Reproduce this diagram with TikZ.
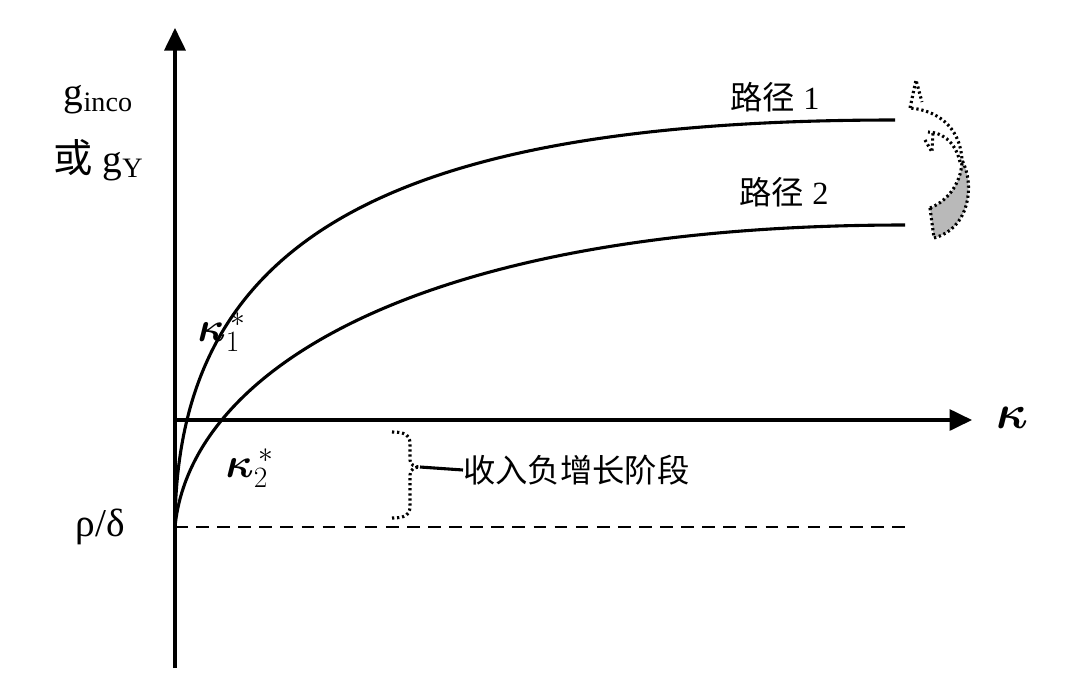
\documentclass[tikz,border=0pt]{standalone}
\usepackage{fix-cm}
\usepackage{fontspec}
\usepackage{amsmath,bm}
\setmainfont{Liberation Serif}
\newfontfamily\cjk{Noto Sans CJK SC}
\usetikzlibrary{positioning, calc, arrows.meta}

\begin{document}
\begin{tikzpicture}[
    x=0.025cm, y=-0.025cm,
    axis/.style={line width=2.2pt, -{Triangle[length=16pt, width=15pt]}},
    curve/.style={line width=2.2pt},
    lbl/.style={font=\fontsize{23}{27}\selectfont, inner sep=0pt},
    ylbl/.style={font=\fontsize{28}{32}\selectfont, inner sep=0pt},
    klbl/.style={inner sep=0pt},
    dots/.style={line width=2.2pt, dash pattern=on 1.6pt off 2pt}
]
    \useasboundingbox (0,0) rectangle (1080,679);

    % Axes
    \coordinate (o) at (175,527);
    \coordinate (ybot) at (175,668);
    \coordinate (ytop) at (175,28);
    \coordinate (xl) at (175,420);
    \coordinate (xr) at (972,420);
    \coordinate (dend) at (905,527);
    \draw[axis] (ybot) -- (ytop);
    \draw[axis] (xl) -- (xr);
    \draw[line width=1.8pt, dash pattern=on 9pt off 6pt] (o) -- (dend);

    % Paths
    \coordinate (p1) at (895,120);
    \coordinate (p2) at (905,225);
    \draw[curve] (o) .. controls (176,250) and (370,120) .. (p1);
    \draw[curve] (o) .. controls (190,370) and (420,225) .. (p2);

    % Labels
    \node[ylbl] (gi) at (98,100) {g\raisebox{-4pt}{\fontsize{20}{22}\selectfont inco}};
    \node[ylbl] (gy) at (98,160) {{\cjk 或} g\raisebox{-4pt}{\fontsize{20}{22}\selectfont Y}};
    \node[ylbl] (rd) at (100,527) {ρ/δ};
    \node[klbl] (kx) at (1012,418) {\fontsize{34}{38}\selectfont$\bm{\kappa}$};
    \node[klbl] (k1) at (222,332) {\fontsize{30}{34}\selectfont$\bm{\kappa}_1^{\,*}$};
    \node[klbl] (k2) at (250,468) {\fontsize{30}{34}\selectfont$\bm{\kappa}_2^{\,*}$};
    \node[lbl] (r1) at (775,97) {{\cjk 路径} 1};
    \node[lbl] (r2) at (784,192) {{\cjk 路径} 2};
    \node[lbl, anchor=west] (st) at (463,470) {\cjk 收入负增长阶段};

    % Brace
    \coordinate (b1) at (392,432);
    \coordinate (b2) at (392,518);
    \coordinate (bt) at (420,467);
    \draw[dots] (b1) .. controls (412,432) and (410,440) .. (410,450)
        -- (410,460) .. controls (410,465) and (415,467) .. (bt);
    \draw[dots] (b2) .. controls (412,518) and (410,510) .. (410,500)
        -- (410,475) .. controls (410,469) and (415,467) .. (bt);
    \draw[line width=2.2pt] (bt) -- (st.west);

    % Twisted arrow
    \coordinate (ta) at (930,208);
    \coordinate (tb) at (934,238);
    \coordinate (tc) at (962,160);
    \fill[gray!55] (ta) .. controls (950,200) and (962,180) .. (tc)
        .. controls (975,185) and (970,228) .. (tb) -- cycle;
    \draw[dots] (ta) .. controls (950,200) and (962,180) .. (tc);
    \draw[dots] (ta) -- (tb);
    \draw[dots] (tb) .. controls (970,228) and (975,185) .. (tc)
        .. controls (960,125) and (935,110) .. (910,108);
    \draw[dots] (910,108) -- (916,80) -- (922,102);
    \draw[dots] (960,162) .. controls (955,140) and (940,132) .. (928,132);
    \draw[dots] (925,140) -- (932,152) -- (933,132);
\end{tikzpicture}
\end{document}
